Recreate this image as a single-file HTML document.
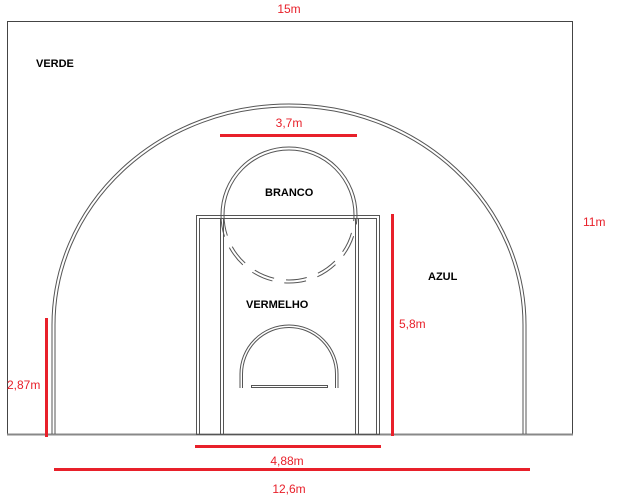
<!DOCTYPE html>
<html><head><meta charset="utf-8"><style>
html,body{margin:0;padding:0;background:#fff;}
svg{display:block;}
.lab{font-family:"Liberation Sans",sans-serif;font-size:11px;font-weight:bold;fill:#000;}
.red{font-family:"Liberation Sans",sans-serif;font-size:12px;fill:#e8202a;}
</style></head><body>
<svg width="624" height="503" viewBox="0 0 624 503">
<g fill="none" stroke="#555" stroke-width="1">
<rect x="7.5" y="21.5" width="565" height="413" stroke="#444"/>
<line x1="7" y1="434.5" x2="573" y2="434.5" stroke="#888" stroke-width="2"/>
<path d="M52,434 L52,325 A237,221 0 0 1 526,325 L526,434"/>
<path d="M55,434 L55,325 A234,218 0 0 1 523,325 L523,434"/>
<rect x="196.5" y="215.5" width="183" height="219"/>
<rect x="199.5" y="218.5" width="177" height="216"/>
<line x1="220.5" y1="218" x2="220.5" y2="434"/>
<line x1="223.5" y1="218" x2="223.5" y2="434"/>
<line x1="355.5" y1="218" x2="355.5" y2="434"/>
<line x1="358.5" y1="218" x2="358.5" y2="434"/>
<path d="M221,215 A68,68 0 0 1 357,215"/>
<path d="M224,215 A65,65 0 0 1 354,215"/>
<path d="M221,215 A68,68 0 0 0 357,215" stroke-dasharray="22,12"/>
<path d="M224,215 A65,65 0 0 0 354,215" stroke-dasharray="21,12"/>
<path d="M240,388 L240,374 A49,49 0 0 1 338,374 L338,388"/>
<path d="M242.5,388 L242.5,374 A46.5,46.5 0 0 1 335.5,374 L335.5,388"/>
<rect x="251.5" y="385.5" width="76" height="2"/>
</g>
<g fill="#e8202a">
<rect x="220" y="134" width="137" height="3"/>
<rect x="391" y="214" width="3" height="222"/>
<rect x="45" y="318" width="3" height="119"/>
<rect x="195" y="445" width="186" height="3"/>
<rect x="54" y="468" width="476" height="3"/>
</g>
<text class="red" x="289" y="13" text-anchor="middle">15m</text>
<text class="red" x="289" y="127" text-anchor="middle">3,7m</text>
<text class="red" x="399" y="328">5,8m</text>
<text class="red" x="7" y="389">2,87m</text>
<text class="red" x="287" y="465" text-anchor="middle">4,88m</text>
<text class="red" x="289" y="493" text-anchor="middle">12,6m</text>
<text class="red" x="583" y="226">11m</text>
<text class="lab" x="36" y="67">VERDE</text>
<text class="lab" x="265" y="196">BRANCO</text>
<text class="lab" x="428" y="280">AZUL</text>
<text class="lab" x="246" y="308">VERMELHO</text>
</svg>
</body></html>
